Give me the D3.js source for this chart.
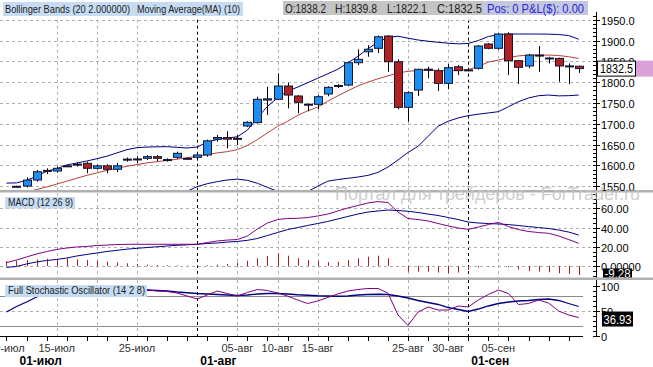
<!DOCTYPE html>
<html><head><meta charset="utf-8">
<script src="https://cdn.jsdelivr.net/npm/d3@7"></script>
<style>body{margin:0;background:#fff;}svg{display:block;font-family:"Liberation Sans",Arial,sans-serif;}</style>
</head><body><svg id="c" width="653" height="367"></svg>
<script>
// ---- data ----
const dates = ["2011-07-10","2011-07-11","2011-07-12","2011-07-13","2011-07-14","2011-07-15","2011-07-17","2011-07-18","2011-07-19","2011-07-20","2011-07-21","2011-07-22","2011-07-24","2011-07-25","2011-07-26","2011-07-27","2011-07-28","2011-07-29","2011-07-31",
"2011-08-01","2011-08-02","2011-08-03","2011-08-04","2011-08-05","2011-08-07","2011-08-08","2011-08-09","2011-08-10","2011-08-11","2011-08-12","2011-08-14","2011-08-15","2011-08-16","2011-08-17","2011-08-18","2011-08-19","2011-08-21","2011-08-22","2011-08-23","2011-08-24","2011-08-25","2011-08-26","2011-08-28","2011-08-29","2011-08-30","2011-08-31",
"2011-09-01","2011-09-02","2011-09-04","2011-09-05","2011-09-06","2011-09-07","2011-09-08","2011-09-09","2011-09-11","2011-09-12","2011-09-13","2011-09-14"];
const openP  = [null,1549.5,1550.4,1564.8,1586,1586.5,1597,1602,1605,1593,1599,1590.6,1614,1614,1617,1621,1614,1619.4,1617,1619.4,1625,1663,1667,1665,1694.6,1702.8,1757,1758.8,1790.7,1766.7,1747,1746.7,1771.5,1790,1793,1846.7,1873,1881.3,1910.8,1849,1739.5,1781,1831,1827.5,1797,1837,1829.5,1833.2,1891.6,1881.3,1915.6,1851.5,1838.8,1865,1858,1857,1838,1838.2];
const highP  = [null,1551,1571,1589,1593,1597,1601,1607,1609,1602,1603,1606,1619,1622,1625,1625,1617,1633,1619,1629,1662,1673,1682,1673,1706,1765,1789,1821,1798.6,1769,1748,1769,1790,1795,1849,1879,1889,1912,1913,1855,1778,1832,1837,1833,1843.6,1841,1831,1889,1894,1918,1920,1853,1868,1886.8,1861,1859,1845,1839.8];
const lowP   = [null,1548,1547,1561,1579,1582.4,1596,1597,1581,1590,1581,1584,1609,1605,1613,1610,1609,1615,1614,1613,1621,1657,1641,1649,1692,1700,1721,1758.8,1737,1725,1730,1734.7,1766,1786,1790,1841,1861,1870,1825,1735,1705,1766.7,1809,1778.6,1782.8,1817,1826,1830,1879,1878,1817,1795.5,1833,1825,1845,1801,1795,1822.1];
const closeP = [null,1549.8,1564.8,1584.8,1588,1593,1599,1603,1593,1599,1590.6,1599,1615,1615.5,1621,1617,1613,1629,1616,1625,1659,1667,1663,1664,1703.5,1758.8,1760,1790.7,1769,1751.5,1746.5,1765,1787.6,1792,1846.7,1854.8,1879,1909,1849,1739.5,1774.6,1830.8,1829,1797,1834.7,1827.5,1828.5,1886.8,1881.3,1915.6,1851.5,1835.6,1865,1863,1857,1838.8,1839,1832.5];
const bbUpper = [1557.4,1558,1564,1574,1585.8,1591.8,1601,1605.7,1610.5,1616,1622,1630,1637.7,1642.7,1644,1644.6,1644.9,1643.4,1641.7,1644.1,1656,1662.2,1665.8,1668.6,1685,1714.3,1742,1762,1778.7,1788,1798.6,1809.4,1820,1831,1846,1862,1880,1896.4,1907,1910.4,1905.6,1901.2,1898.3,1895.7,1893.5,1892,1892.8,1900,1909.6,1914,1915.6,1915.6,1915.6,1915.6,1915.2,1914.4,1912,1903];
const bbLower = [null,null,null,null,null,null,null,null,null,null,null,null,null,null,null,null,null,1525,1538,1549,1556,1561,1565,1567,1564,1557,1547,1538,1533,1532,1537,1550,1562,1566,1569,1572,1576,1583,1596,1613,1631,1646,1670,1694,1706,1714,1719.5,1723,1726,1729,1741,1753,1762,1767.4,1769,1767,1767.5,1769];
const ma10 = [null,1530,1536,1542,1548,1555,1562,1569,1576,1582,1588,1593,1598,1602,1606,1609,1612,1615,1618,1622.5,1626,1630,1633,1638,1648,1662,1678,1694,1706,1720,1731,1740,1754,1767,1779,1791,1800,1808,1815,1822,1826,1828,1829,1828,1827.5,1828.5,1830,1838,1848,1853,1859,1863,1865,1865,1865,1864,1861,1857];
const macdLine = [3.5,6.2,9.4,12.5,15,17.2,18.7,19.8,20.3,21.3,21.8,22.3,22.6,22.6,22.6,22.6,22.6,22.6,22.6,22.6,24.4,26,27,27.5,31.2,38.5,44.7,48.3,49.4,49.6,50.4,52,54,57.2,60.3,62.9,65.5,67,66,56.1,49.4,48.3,46.8,44.2,41.6,39.5,38.1,40.5,43.1,45.4,41,37.9,35.9,34.8,34,31.2,27.5,23.6];
const macdSignal = [-1.5,-0.5,2.1,4.2,5.7,6.8,8.3,10.4,12,13.5,15.1,16.3,17.5,18.4,19.2,20,20.8,21.5,22,22.6,23.4,23.9,24.9,25.5,26.7,28.6,31.7,34.8,37.9,40,42.1,44.2,46.3,48.9,51.5,54,56.1,57.2,58.2,57.7,56.9,55.6,54,52.5,50.4,48.3,45.7,44.7,44.2,43.7,43.1,42.1,41,40,39,37.4,35.3,32.2];
const macdHist = [5,5.5,6.2,6.9,7.6,7.6,8,6.9,6.2,5.5,4.5,3.8,2.8,2.1,1.4,1,0.7,0.7,0.35,0.7,0.7,1.4,2.1,3.5,5.5,8,10.4,13.2,10.7,8,6.2,5.2,4,4.5,6.2,8,9.7,10.7,8,-0.5,-5.9,-5.9,-5.9,-6.9,-7.6,-6.9,-4,-1.4,-0.7,0.3,-1.4,-3.5,-5.2,-5.9,-6.6,-7.6,-8.3,-9.28];
const stochK = [90,92,95,96,96,95,94,93,90,88,86,88,90,92,92,90,89,86,80,74,82,90,85,80,87,93,91,86,80,72,65,70,77,84,90,93,95,95,86,42,21,48,58,52,52,60,58,72,83,92,85,63,65,72,66,50,42,36.93];
const stochD = [48,59,68,78,84,88,90,92,93,93,92,91,91,91,92,91,90,88,86.5,85,84,83,82,81,82,84,85,85,84,82.5,81.5,80.5,80,79.5,80,82,83,83.5,83,80,76,71,67,63,57,53,49,54,60,65,68,70,71,73,74,71,65,59];
const priceTicks = [1550,1600,1650,1700,1750,1800,1850,1900,1950];
const macdTicks = [0,20,40,60];
const macdTickLabels = ["0.00000","20.00","40.00","60.00"];
const stochTicks = [0,50,100];
const gridDates = ["2011-07-15","2011-07-20","2011-07-25","2011-08-05","2011-08-10","2011-08-15","2011-08-25","2011-08-30","2011-09-05"];
const monthLineDates = ["2011-08-01","2011-09-01"];
const dayTickDates = ["2011-07-10","2011-07-15","2011-07-25","2011-08-05","2011-08-10","2011-08-15","2011-08-25","2011-08-30","2011-09-05"];
const dayTickLabels = ["10-июл","15-июл","25-июл","05-авг","10-авг","15-авг","25-авг","30-авг","05-сен"];
const monthLabelDates = ["2011-07-11","2011-08-01","2011-09-01"];
const monthLabels = ["01-июл","01-авг","01-сен"];

// ---- layout ----
const svg = d3.select("#c");
const AX = 596;
const pos = new Map(dates.map((d,i)=>[d,i]));
const x = d3.scaleLinear().domain([0, dates.length-1]).range([6.46, 578.7]);
const yP = d3.scaleLinear().domain([1550,1950]).range([186.2,19.7]);
const yM = d3.scaleLinear().domain([0,60]).range([266,208.3]);
const yS = d3.scaleLinear().domain([0,100]).range([336,286]);
const panels = {main:[0,190], macd:[193,277.5], sto:[280,337]};
const defs = svg.append("defs");
Object.entries(panels).forEach(([k,[a,b]])=>{
  defs.append("clipPath").attr("id","cl_"+k).append("rect").attr("x",0).attr("y",a).attr("width",AX).attr("height",b-a);
});
const gMain = svg.append("g").attr("clip-path","url(#cl_main)");
const gMacd = svg.append("g").attr("clip-path","url(#cl_macd)");
const gSto  = svg.append("g").attr("clip-path","url(#cl_sto)");

const GRID = "#b0b0b0";
function hdash(g,y,x2){ g.append("line").attr("x1",0).attr("x2",x2).attr("y1",Math.round(y)+0.5).attr("y2",Math.round(y)+0.5).attr("stroke",GRID).attr("stroke-dasharray","3,3"); }
// vertical grid
[[gMain,19.7,190],[gMacd,193,278],[gSto,280,336]].forEach(([g,a,b])=>{
  gridDates.forEach(d=>{ const xx=Math.round(x(pos.get(d)))+0.5;
    g.append("line").attr("x1",xx).attr("x2",xx).attr("y1",a).attr("y2",b).attr("stroke",GRID).attr("stroke-dasharray","3,3"); });
  monthLineDates.forEach(d=>{ const xx=Math.round(x(pos.get(d)))+0.5;
    g.append("line").attr("x1",xx).attr("x2",xx).attr("y1",a).attr("y2",b).attr("stroke","#000").attr("stroke-dasharray","3,3"); });
});
priceTicks.forEach(v=>hdash(gMain,yP(v),AX));
macdTicks.forEach(v=>hdash(gMacd,yM(v),AX));
hdash(gSto,yS(50),AX);
[20,80].forEach(v=>gSto.append("line").attr("x1",0).attr("x2",583).attr("y1",Math.round(yS(v))+0.5).attr("y2",Math.round(yS(v))+0.5).attr("stroke","#8a8a8a"));

// ---- main panel ----
function series(g,arr,y,color,w){
  const line = d3.line().defined(d=>d[1]!=null).x(d=>x(d[0])).y(d=>y(d[1]));
  g.append("path").attr("d",line(arr.map((v,i)=>[i,v]))).attr("fill","none").attr("stroke",color).attr("stroke-width",w||1);
}
series(gMain,bbUpper,yP,"#000080",1);
series(gMain,bbLower,yP,"#000080",1);
series(gMain,ma10,yP,"#b8403a",1);
dates.forEach((d,i)=>{
  if(openP[i]==null) return;
  const cx=Math.round(x(i))+0.5;
  gMain.append("line").attr("x1",cx).attr("x2",cx).attr("y1",yP(highP[i])).attr("y2",yP(lowP[i])).attr("stroke","#000");
  const top=yP(Math.max(openP[i],closeP[i])), bot=yP(Math.min(openP[i],closeP[i]));
  const up = closeP[i]>=openP[i];
  gMain.append("rect").attr("x",cx-4).attr("width",8).attr("y",top).attr("height",Math.max(1,bot-top))
    .attr("fill",up?"#1e8ef0":"#b22222").attr("stroke","#151530").attr("stroke-width",1);
});

// ---- MACD ----
dates.forEach((d,i)=>{ const cx=Math.round(x(i))+0.5;
  gMacd.append("line").attr("x1",cx).attr("x2",cx).attr("y1",yM(0)).attr("y2",yM(macdHist[i])).attr("stroke","#a82020"); });
series(gMacd,macdSignal,yM,"#000080",1);
series(gMacd,macdLine,yM,"#800080",1);

// ---- Stochastic ----
series(gSto,stochD,yS,"#000080",1.3);
series(gSto,stochK,yS,"#800080",1);

// separators
svg.append("rect").attr("x",0).attr("y",190).attr("width",653).attr("height",2.5).attr("fill","#b0b0b0");
svg.append("rect").attr("x",0).attr("y",277.5).attr("width",653).attr("height",2.5).attr("fill","#b0b0b0");

// x axis
svg.append("line").attr("x1",0).attr("x2",583).attr("y1",336.5).attr("y2",336.5).attr("stroke","#000");
dates.forEach((d,i)=>{ if(i%2) return; const cx=Math.round(x(i))+0.5;
  svg.append("line").attr("x1",cx).attr("x2",cx).attr("y1",336.5).attr("y2",341).attr("stroke","#000"); });
dayTickDates.forEach((d,k)=>{
  svg.append("text").attr("x",x(pos.get(d))).attr("y",352).attr("text-anchor","middle").attr("font-size",11).attr("fill","#333").text(dayTickLabels[k]);
});
monthLabelDates.forEach((d,k)=>{
  svg.append("text").attr("x",x(pos.get(d))+3).attr("y",365).attr("font-size",12).attr("font-weight","bold").attr("fill","#000").text(monthLabels[k]);
});

// y axes
function yaxis(y0,y1,scale,ticks,labels,minorStep,dom){
  svg.append("line").attr("x1",AX+0.5).attr("x2",AX+0.5).attr("y1",y0).attr("y2",y1).attr("stroke","#000");
  for(let v=dom[0]; v<=dom[1]+1e-9; v+=minorStep){ const yy=Math.round(scale(v))+0.5;
    if(yy<y0||yy>y1) continue;
    svg.append("line").attr("x1",AX-3).attr("x2",AX).attr("y1",yy).attr("y2",yy).attr("stroke","#000"); }
  ticks.forEach((v,k)=>{ const yy=Math.round(scale(v))+0.5;
    svg.append("line").attr("x1",AX).attr("x2",AX+4).attr("y1",yy).attr("y2",yy).attr("stroke","#000");
    svg.append("text").attr("x",AX+5).attr("y",yy+4).attr("font-size",11).attr("fill","#000").text(labels[k]); });
}
yaxis(12,190,yP,priceTicks,priceTicks.map(v=>v.toFixed(1)),10,[1540,1960]);
yaxis(193,277.5,yM,macdTicks,macdTickLabels,5,[-10,75]);
yaxis(280,337,yS,stochTicks,stochTicks.map(String),10,[0,100]);

// value boxes
const lastI = dates.length-1;
const cy = yP(closeP[lastI]);
svg.append("rect").attr("x",635).attr("y",cy-8).attr("width",18).attr("height",16).attr("fill","#d8a2d8");
svg.append("rect").attr("x",597.5).attr("y",cy-7.5).attr("width",38).attr("height",15).attr("fill","#fff").attr("stroke","#000");
svg.append("text").attr("x",600).attr("y",cy+4.5).attr("font-size",12).attr("fill","#000").attr("textLength",33).attr("lengthAdjust","spacingAndGlyphs").text(closeP[lastI].toFixed(1));
defs.append("clipPath").attr("id","cl_macdbox").append("rect").attr("x",590).attr("y",193).attr("width",63).attr("height",84.5);
const gBox = svg.append("g").attr("clip-path","url(#cl_macdbox)");
const my = yM(macdHist[lastI]);
gBox.append("rect").attr("x",603).attr("y",my-6.5).attr("width",29).attr("height",14).attr("fill","#000");
gBox.append("text").attr("x",604.5).attr("y",my+3.5).attr("font-size",12).attr("fill","#fff").attr("textLength",26).attr("lengthAdjust","spacingAndGlyphs").text(macdHist[lastI].toFixed(2));
const sy = yS(stochK[lastI]);
svg.append("rect").attr("x",602).attr("y",sy-6).attr("width",31).attr("height",15).attr("fill","#000");
svg.append("text").attr("x",603.5).attr("y",sy+6).attr("font-size",12).attr("fill","#fff").attr("textLength",28).attr("lengthAdjust","spacingAndGlyphs").text(stochK[lastI].toFixed(2));

// legends / headers
function label(xp,yp,w,h,bg,txt,tx,tl,fs,col){
  svg.append("rect").attr("x",xp).attr("y",yp).attr("width",w).attr("height",h).attr("fill",bg);
  svg.append("text").attr("x",tx).attr("y",yp+h-3).attr("font-size",fs).attr("fill",col||"#1a1a1a")
    .attr("textLength",tl).attr("lengthAdjust","spacingAndGlyphs").text(txt);
}
label(3,2,240,14,"#c6dcf2","Bollinger Bands (20 2.000000)",5,125,11);
svg.append("text").attr("x",137).attr("y",13).attr("font-size",11).attr("fill","#1a1a1a").attr("textLength",103).attr("lengthAdjust","spacingAndGlyphs").text("Moving Average(MA) (10)");
svg.append("rect").attr("x",283).attr("y",1).attr("width",200).attr("height",14).attr("fill","#c4c4c4");
svg.append("rect").attr("x",483).attr("y",1).attr("width",105).attr("height",14).attr("fill","#c4c8de");
[["O:1838.2",285,41],["H:1839.8",335,42],["L:1822.1",387,40],["C:1832.5",437,45]].forEach(([t,xx,w])=>{
  svg.append("text").attr("x",xx).attr("y",12.5).attr("font-size",12).attr("fill","#222").attr("textLength",w).attr("lengthAdjust","spacingAndGlyphs").text(t);
});
svg.append("text").attr("x",487).attr("y",12.5).attr("font-size",12).attr("fill","#2424d8").attr("textLength",97).attr("lengthAdjust","spacingAndGlyphs").text("Pos: 0 P&L($): 0.00");
label(5,197,70,11.5,"#c6dcf2","MACD (12 26 9)",8,65,11);
label(5,285,142,12,"#c6dcf2","Full Stochastic Oscillator (14 2 8)",8,137,11);

// watermark
svg.append("text").attr("x",335).attr("y",200).attr("font-size",18).attr("fill","#c4c4c4").attr("fill-opacity",0.85)
  .attr("textLength",305).attr("lengthAdjust","spacingAndGlyphs").text("Портал для трейдеров - ForTrader.ru");
</script></body></html>
